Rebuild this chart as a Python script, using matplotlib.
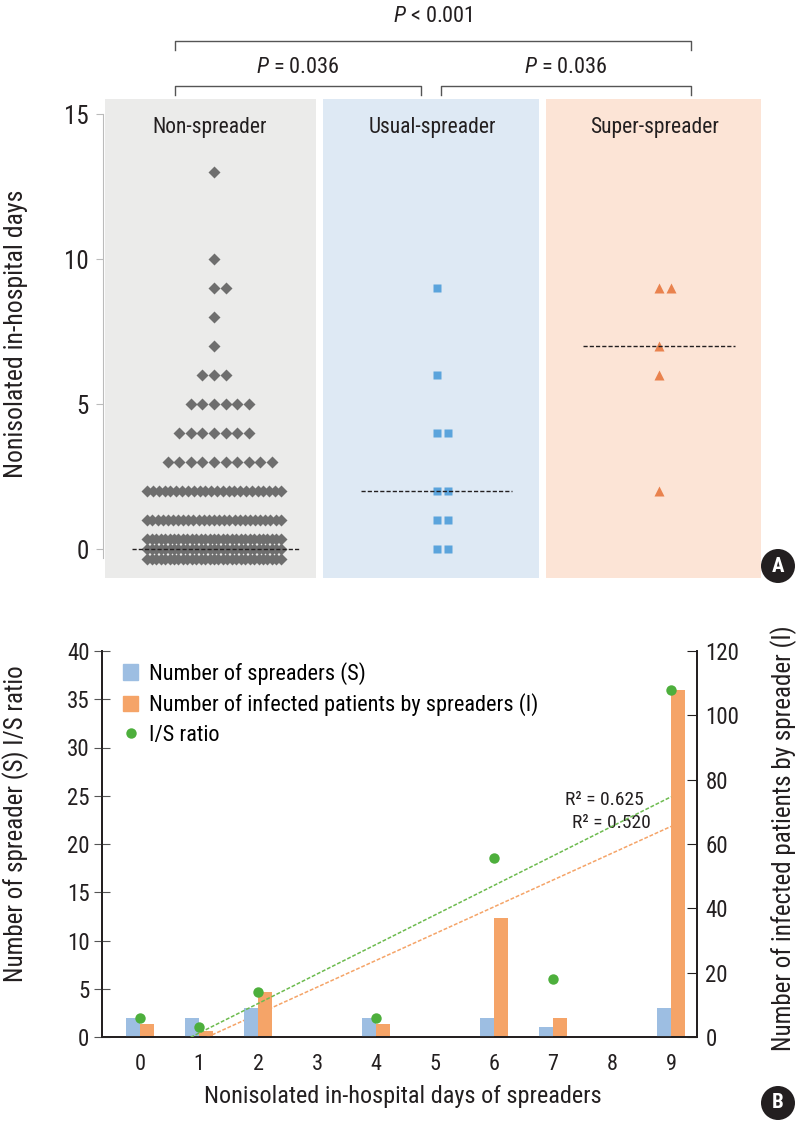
import numpy as np
import matplotlib
matplotlib.use('Agg')
import matplotlib.pyplot as plt
from matplotlib import font_manager
from matplotlib.lines import Line2D
from matplotlib.patches import Patch

# pick a narrow sans if there is one
names = {f.name for f in font_manager.fontManager.ttflist}
base = 'DejaVu Sans'
for cand in ['Liberation Sans Narrow', 'Roboto Condensed', 'Liberation Sans']:
    if cand in names:
        base = cand
        break
plt.rcParams['font.family'] = [base, 'DejaVu Sans']
plt.rcParams['mathtext.fontset'] = 'custom'
plt.rcParams['mathtext.rm'] = base
plt.rcParams['mathtext.it'] = base + ':italic'

# ---- panel A data: nonisolated in-hospital days per patient group
groups = ['Non-spreader', 'Usual-spreader', 'Super-spreader']
non_days = [0, 1, 2, 3, 4, 5, 6, 7, 8, 9, 10, 13]
non_counts = [93, 27, 24, 10, 7, 6, 3, 1, 1, 2, 1, 1]
usual_days = [0, 0, 1, 1, 2, 2, 4, 4, 6, 9]
super_days = [2, 6, 7, 9, 9]
p_labels = ['$P$ < 0.001', '$P$ = 0.036', '$P$ = 0.036']

# ---- panel B data
days = [0, 1, 2, 4, 6, 7, 9]
spreaders = [2, 2, 3, 2, 2, 1, 3]
infected = [4, 2, 14, 4, 37, 6, 108]
xticks_b = list(range(10))

W, H = 799, 1127
fig = plt.figure(figsize=(W / 100, H / 100), dpi=100)

def fx(px):
    return px / W

def fy(py):
    return 1 - py / H

# ================= panel A =================
axA = fig.add_axes([fx(103), fy(578), fx(762) - fx(103), fy(99) - fy(578)])
axA.set_xlim(-0.499, 2.463)
axA.set_ylim(-1.0, 15.52)

bg = ['#EBEBEA', '#DEE9F4', '#FCE4D6']
mcol = ['#6E6E6E', '#5BA4DC', '#E9824E']
marks = ['D', 's', '^']
msz = [6.0, 6.2, 6.6]
med_half = [0.38, 0.34, 0.34]
for i in range(3):
    left = max(i - 0.51, -0.49)
    axA.axvspan(left, i + 0.46, color=bg[i], lw=0, zorder=0)
    axA.text(i - 0.02, 14.55, groups[i], ha='center', va='center',
             fontsize=15.5, color='#231f20')

def swarm(values, counts, center, sp=0.052, half=0.30, per_row=31, dy=0.36):
    xs, ys = [], []
    for v, n in zip(values, counts):
        nrows = int(np.ceil(n / per_row))
        split = np.array_split(np.arange(n), nrows)
        offs_y = (np.arange(nrows) - (nrows - 1) / 2) * -dy
        for r, idx in enumerate(split):
            k = len(idx)
            s = sp if k < 2 else min(sp, 2 * half / (k - 1))
            off = (np.arange(k) - (k - 1) / 2) * s
            if k % 2 == 0 and s == sp:
                off = off + s / 2
            xs.extend(center + off)
            ys.extend([v + offs_y[r]] * k)
    return xs, ys

datasets = [
    (non_days, non_counts),
    tuple(map(list, np.unique(usual_days, return_counts=True))),
    tuple(map(list, np.unique(super_days, return_counts=True))),
]
raw = [np.repeat(non_days, non_counts), usual_days, super_days]
for i, (vals, cnts) in enumerate(datasets):
    xs, ys = swarm(vals, cnts, i)
    axA.plot(xs, ys, ls='none', marker=marks[i], ms=msz[i], color=mcol[i],
             mec='none', zorder=3)
    med = np.median(raw[i])
    axA.plot([i - med_half[i] + (0.01 if i == 0 else 0), i + med_half[i]],
             [med, med], ls=(0, (3, 1.5)), color='#231f20', lw=1.0, zorder=4)

for s in ['top', 'right', 'bottom']:
    axA.spines[s].set_visible(False)
axA.spines['left'].set_color('#BBBBBB')
axA.spines['left'].set_bounds(-0.3, 15)
axA.set_yticks([0, 5, 10, 15])
axA.tick_params(axis='y', colors='#BBBBBB', labelcolor='#231f20', length=5,
                labelsize=18, pad=5)
axA.set_xticks([])

# significance brackets
def bracket(x0, x1, y, h, label, ty):
    axA.plot([x0, x0, x1, x1], [y - h, y, y, y - h], color='#555555', lw=1.0,
             clip_on=False)
    axA.text((x0 + x1) / 2, ty, label, ha='center', va='center',
             fontsize=16, color='#231f20', clip_on=False)

bracket(-0.175, 2.144, 17.52, 0.32, p_labels[0], 18.35)
bracket(-0.175, 0.93, 15.97, 0.32, p_labels[1], 16.62)
bracket(1.02, 2.144, 15.97, 0.32, p_labels[2], 16.62)

fig.text(fx(16), fy(334), 'Nonisolated in-hospital days', rotation=90,
         ha='center', va='center', fontsize=18.5, color='#231f20')

# ================= panel B =================
axB = fig.add_axes([fx(102), fy(1037), fx(697) - fx(102), fy(651) - fy(1037)])
axB2 = axB.twinx()
axB.set_xlim(-0.644, 9.44)
axB.set_ylim(0, 40)
axB2.set_ylim(0, 120)

blue = '#9DBEE2'
orange = '#F5A468'
green = '#4DAF3C'
bw = 0.24
d = np.array(days)
axB.bar(d - bw / 2, spreaders, width=bw, color=blue, zorder=2)
axB2.bar(d + bw / 2, infected, width=bw, color=orange, zorder=2)
ratio = np.array(infected) / np.array(spreaders)
axB.plot(d, ratio, ls='none', marker='o', ms=7.5, color=green, mec='none',
         zorder=5)

# linear trend lines
xx = np.linspace(0, 9, 50)
cg = np.polyfit(d, ratio, 1)
co = np.polyfit(d, infected, 1)
r2g = np.corrcoef(d, ratio)[0, 1] ** 2
r2o = np.corrcoef(d, infected)[0, 1] ** 2
axB.plot(xx, np.polyval(cg, xx), ls=(0, (2.5, 1.2)), color='#6DBB4F', lw=1.1,
         zorder=4)
axB2.plot(xx, np.polyval(co, xx), ls=(0, (2.5, 1.2)), color=orange, lw=1.1,
          zorder=4)
axB.text(7.2, 24.6, 'R² = %.3f' % r2g, ha='left', va='center', fontsize=14,
         color='#231f20')
axB.text(7.32, 22.2, 'R² = %.3f' % r2o, ha='left', va='center', fontsize=14,
         color='#231f20')

for a in (axB, axB2):
    a.spines['top'].set_visible(False)
    for s in ['left', 'right', 'bottom']:
        a.spines[s].set_color('#231f20')
        a.spines[s].set_linewidth(1.3)
axB2.set_zorder(axB.get_zorder() - 1)
axB.patch.set_visible(False)

axB.set_xticks(xticks_b)
axB.tick_params(axis='x', length=0, pad=12, labelsize=16, labelcolor='#231f20')
axB.set_yticks(range(0, 41, 5))
axB.tick_params(axis='y', direction='inout', length=12, color='#555555',
                labelsize=16.5, labelcolor='#231f20', pad=3)
axB2.set_yticks(range(0, 121, 20))
axB2.tick_params(axis='y', direction='in', length=7, color='#231f20',
                 labelsize=16.5, labelcolor='#231f20', pad=6)

handles = [Patch(color=blue), Patch(color=orange),
           Line2D([], [], ls='none', marker='o', ms=7.5, color=green, mec='none')]
labels = ['Number of spreaders (S)', 'Number of infected patients by spreaders (I)',
          'I/S ratio']
axB.legend(handles, labels, loc='upper left', bbox_to_anchor=(0.02, 0.995),
           frameon=False, fontsize=16, handlelength=0.7, handleheight=0.7,
           handletextpad=0.5, labelspacing=0.38, borderaxespad=0)

fig.text(fx(403), fy(1097), 'Nonisolated in-hospital days of spreaders',
         ha='center', va='center', fontsize=17.5, color='#231f20')
fig.text(fx(16), fy(824), 'Number of spreader (S) I/S ratio', rotation=90,
         ha='center', va='center', fontsize=18, color='#231f20')
fig.text(fx(784), fy(838), 'Number of infected patients by spreader (I)',
         rotation=90, ha='center', va='center', fontsize=18, color='#231f20')

# panel letters
for lab, py in [('A', 566), ('B', 1103)]:
    fig.text(fx(778), fy(py), lab, ha='center', va='center', fontsize=15,
             fontweight='bold', color='white',
             bbox=dict(boxstyle='circle,pad=0.36', fc='#231f20', ec='none'))

fig.savefig('out.png', dpi=100)
